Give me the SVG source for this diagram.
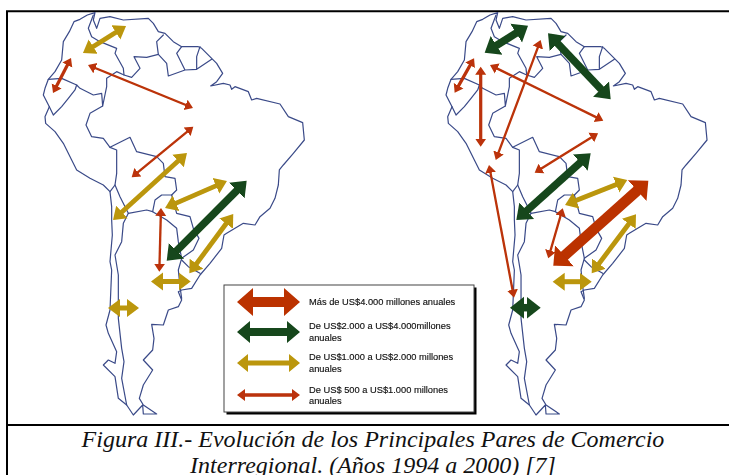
<svg xmlns="http://www.w3.org/2000/svg" width="729" height="475" viewBox="0 0 729 475">
<style>
.map{fill:none;stroke:#3a4a88;stroke-width:3.6;stroke-linejoin:round;stroke-linecap:round}
line{fill:none}
.r{stroke:#bb3207;stroke-width:2.300;marker-start:url(#mR);marker-end:url(#mR)}
.rm{stroke:#bb3207;stroke-width:3.200;marker-start:url(#mR);marker-end:url(#mR)}
.g{stroke:#bb9608;stroke-width:4.800;marker-start:url(#mG);marker-end:url(#mG)}
.gh{stroke:#bb9608;stroke-width:5;marker-start:url(#mGh);marker-end:url(#mGh)}
.d{stroke:#14461a;stroke-width:7.500;marker-start:url(#mD);marker-end:url(#mD)}
.b{stroke:#bb3000;stroke-width:10.500;marker-start:url(#mB);marker-end:url(#mB)}
.lt{font-family:"Liberation Sans",Arial,sans-serif;font-size:9.300px;fill:#111;stroke:#111;stroke-width:.15}
.cap{font-family:"Liberation Serif","Times New Roman",serif;font-style:italic;font-size:24px;fill:#111;text-anchor:middle}
</style>
<defs>
<filter id="soft" x="-5%" y="-5%" width="110%" height="110%"><feGaussianBlur stdDeviation=".35"/></filter>
<marker id="mR" markerUnits="userSpaceOnUse" markerWidth="12" markerHeight="14" refX="1" refY="7" orient="auto-start-reverse"><path d="M0,1.500L8,7L0,12.500Z" fill="#bb3207"/></marker>
<marker id="mG" markerUnits="userSpaceOnUse" markerWidth="14" markerHeight="20" refX="3" refY="10" orient="auto-start-reverse"><path d="M0,1.500L12,10L0,18.500Z" fill="#bb9608"/></marker>
<marker id="mGh" markerUnits="userSpaceOnUse" markerWidth="14" markerHeight="20" refX="1" refY="10" orient="auto-start-reverse"><path d="M0,1L12,10L0,19Z" fill="#bb9608"/></marker>
<marker id="mD" markerUnits="userSpaceOnUse" markerWidth="16" markerHeight="24" refX="3" refY="12" orient="auto-start-reverse"><path d="M0,1L14,12L0,23Z" fill="#14461a"/></marker>
<marker id="mB" markerUnits="userSpaceOnUse" markerWidth="16" markerHeight="30" refX="1" refY="15" orient="auto-start-reverse"><path d="M0,1L15,15L0,29Z" fill="#bb3000"/></marker>
<g id="sa" transform="scale(.33333)" class="map">
<path d="M285,38L262,45L240,58L222,65L208,95L190,125L185,180L165,215L145,238L135,265L130,285L148,320L135,350L137,370L165,395L190,430L215,480L230,510L270,535L310,555L330,575L335,620L335,660L337,705L330,785L335,810L330,930L318,975L325,1000L350,1055L345,1090L325,1080L310,1095L345,1130L355,1195L380,1215L400,1245L428,1215L430,1242L470,1242L430,1215L418,1195L430,1155L458,1110L430,1080L458,1050L462,1015L455,973L490,975L505,930L535,920L545,900L535,875L545,870L575,865L600,825L630,790L665,745L672,705L680,700L730,670L765,675L780,650L810,625L825,595L835,555L838,510L850,495L880,460L913,420L908,368L865,350L840,312L770,295L755,300L745,275L705,260L695,268L690,255L670,250L632,258L650,245L668,220L650,190L635,175L605,145L595,140L545,140L520,125L495,100L475,95L460,70L445,55L370,60L330,50L300,55L290,85L280,60Z"/>
<path d="M280,45L265,85L275,110L300,125L350,145L345,160L370,205L372,225L395,232L420,205L402,170L440,172L475,163L470,125L490,105"/>
<path d="M475,163L500,190L505,228L555,210L530,160L545,140M555,210L590,208L590,170L600,140M590,208L635,178"/>
<path d="M145,238L185,235L230,255L240,265L280,285L305,280L308,318L320,260L320,235L350,215L372,225"/>
<path d="M230,255L225,270L205,295L185,320L160,345L148,320"/>
<path d="M308,318L270,340L258,375L275,410L310,415L330,442L350,450L350,520L345,555L360,590L385,640L370,670L365,725L345,765L355,825L355,955L365,1045L372,1085L365,1135L380,1215"/>
<path d="M330,442L390,412L410,455L470,470L490,490L495,530L525,535L530,570L515,585L485,585L465,600L458,635L500,660L530,685L535,725L545,775L535,810L540,860L545,895"/>
<path d="M385,640L440,630L458,635M345,555L330,575"/>
<path d="M515,585L530,640L570,650L580,685L597,715L580,750L545,775M545,780L565,800L600,820"/>
</g>
</defs>
<rect width="729" height="475" fill="#fff"/>
<g id="frame" fill="none" stroke="#000">
<path d="M729,11.300H7V475" stroke-width="2"/>
<path d="M7,425H729" stroke-width="1.800"/>
</g>
<g filter="url(#soft)">
<g id="map-left"><use href="#sa"/></g>
<g id="map-right"><use href="#sa" transform="translate(402.700,0)"/></g>
<g id="connectors">
<line class="g" x1="90.600" y1="48.200" x2="118.400" y2="30.800"/>
<line class="g" x1="119.700" y1="214" x2="180.300" y2="159"/>
<line class="g" x1="173.300" y1="204.400" x2="218.700" y2="184.600"/>
<line class="g" x1="194.700" y1="266.100" x2="227.900" y2="221.200"/>
<line class="gh" x1="162" y1="281.500" x2="179.700" y2="281.500"/>
<line class="gh" x1="119" y1="308" x2="128" y2="308"/>
<line class="rm" x1="56.200" y1="86.800" x2="67.800" y2="64.200"/>
<line class="r" x1="94.500" y1="67.700" x2="186.500" y2="105.300"/>
<line class="r" x1="137.100" y1="172.900" x2="187.900" y2="131.100"/>
<line class="r" x1="160.800" y1="215" x2="159.500" y2="264.700"/>
<line class="d" x1="174.500" y1="252.900" x2="238.900" y2="188.500"/>
<line class="d" x1="494" y1="47" x2="518.700" y2="31.500"/>
<line class="d" x1="555.600" y1="41.300" x2="603.100" y2="91.300"/>
<line class="d" x1="524.500" y1="212.700" x2="582.500" y2="160.600"/>
<line class="d" x1="521" y1="307.700" x2="529.700" y2="307.700"/>
<line class="rm" x1="458.100" y1="86.600" x2="470.600" y2="64.400"/>
<line class="rm" x1="480.700" y1="73.700" x2="480.700" y2="139.700"/>
<line class="r" x1="498.200" y1="153.400" x2="538.200" y2="46.600"/>
<line class="r" x1="496.300" y1="68.100" x2="597" y2="117.600"/>
<line class="r" x1="540.600" y1="169" x2="592.100" y2="137"/>
<line class="r" x1="490.300" y1="171.900" x2="512.700" y2="290.800"/>
<line class="r" x1="560.800" y1="215" x2="550.200" y2="251.600"/>
<line class="g" x1="573.400" y1="201.600" x2="618.900" y2="183.400"/>
<line class="g" x1="597.100" y1="266.100" x2="630.600" y2="221.500"/>
<line class="gh" x1="563.700" y1="281.700" x2="580.700" y2="281.700"/>
<line class="b" x1="563.700" y1="256.400" x2="637.900" y2="190"/>
</g>
<g id="legend">
<rect x="226.500" y="287.500" width="250" height="127" fill="#000"/>
<rect x="224" y="285" width="250" height="127" fill="#fff" stroke="#444" stroke-width="1"/>
<polygon fill="#bb3000" points="237,302 253,288 253,297 284,297 284,288 300,302 284,316 284,307 253,307 253,316"/>
<polygon fill="#14461a" points="237,332 250,321 250,328 287,328 287,321 300,332 287,343 287,336 250,336 250,343"/>
<polygon fill="#bb9608" points="237,363 248,354 248,360.500 289,360.500 289,354 300,363 289,372 289,365.500 248,365.500 248,372"/>
<polygon fill="#bb3207" points="237,395 245,389 245,393.200 292,393.200 292,389 300,395 292,401 292,396.800 245,396.800 245,401"/>
<text class="lt" x="309" y="305">Más de US$4.000 millones anuales</text>
<text class="lt" x="309" y="329">De US$2.000 a US$4.000millones</text>
<text class="lt" x="309" y="340.700">anuales</text>
<text class="lt" x="309" y="360">De US$1.000 a US$2.000 millones</text>
<text class="lt" x="309" y="371.700">anuales</text>
<text class="lt" x="309" y="392.700">De US$ 500 a US$1.000 millones</text>
<text class="lt" x="309" y="404">anuales</text>
</g>
</g>
<g id="caption">
<text class="cap" x="373" y="447">Figura III.- Evolución de los Principales Pares de Comercio</text>
<text class="cap" x="373" y="472.500">Interregional. (Años 1994 a 2000) [7]</text>
</g>
</svg>
